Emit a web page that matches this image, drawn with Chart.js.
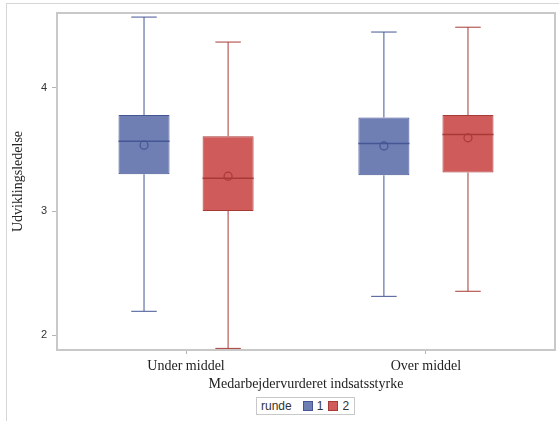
<!DOCTYPE html>
<html>
<head>
<meta charset="utf-8">
<script src="https://cdn.jsdelivr.net/npm/chart.js@4"></script>
<style>
    html, body { margin: 0; padding: 0; background: #fff; }
    #wrap { position: relative; width: 559px; height: 421px; overflow: hidden; }
    #frame {
        position: absolute; left: 6px; top: 3px; right: 0; bottom: 0;
        border-left: 1px solid #d6d6d6; border-top: 1px solid #d6d6d6;
        pointer-events: none;
    }
    #legend {
        position: absolute; left: 256px; top: 397px; height: 16px; width: 97px;
        border: 1px solid #c8c8c8; background: #fff;
        font: 12px "Liberation Sans", Arial, sans-serif; color: #333;
        display: flex; align-items: center; box-sizing: content-box;
    }
    #legend .lbl { margin-left: 4px; margin-right: 11px; }
    #legend .sw { width: 8px; height: 8px; border: 1px solid; margin-right: 4px; }
    #legend .txt { margin-right: 3px; }
</style>
</head>
<body>
<div id="wrap">
    <canvas id="chart" width="559" height="421"></canvas>
    <div id="frame"></div>
    <div id="legend"></div>
</div>
<script>
// categories and tick values
const categories = ['Under middel', 'Over middel'];
const yTicks = [2, 3, 4];
const runder = ['1', '2'];

// box statistics per runde, one value per category
const min1 = [2.192, 2.313];
const q1_1 = [3.301, 3.292];
const median1 = [3.568, 3.549];
const mean1 = [3.536, 3.530];
const q3_1 = [3.779, 3.760];
const max1 = [4.572, 4.451];

const min2 = [1.892, 2.354];
const q1_2 = [3.004, 3.315];
const median2 = [3.269, 3.623];
const mean2 = [3.285, 3.595];
const q3_2 = [3.609, 3.779];
const max2 = [4.370, 4.490];

const fills = ['#6F7EB3', '#D05B5B'];
const lines = ['#445694', '#A83A36'];

const stats = [
    { min: min1, q1: q1_1, med: median1, mean: mean1, q3: q3_1, max: max1 },
    { min: min2, q1: q1_2, med: median2, mean: mean2, q3: q3_2, max: max2 }
];

const datasets = stats.map((s, i) => ({
    label: runder[i],
    data: categories.map((c, j) => ({ x: j, y: [s.q1[j], s.q3[j]] })),
    backgroundColor: fills[i],
    borderColor: lines[i],
    borderWidth: 1,
    borderSkipped: false,
    categoryPercentage: 0.701,
    barPercentage: 0.607
}));

// whiskers, medians and means, placed on the bars the library laid out
const boxExtras = {
    id: 'boxExtras',
    afterDatasetsDraw(chart) {
        const ctx = chart.ctx;
        const y = chart.scales.y;
        stats.forEach((s, i) => {
            const meta = chart.getDatasetMeta(i);
            meta.data.forEach((bar, j) => {
                const x = bar.x;
                const w = bar.width;
                ctx.save();
                ctx.strokeStyle = lines[i];
                ctx.lineWidth = 1;
                ctx.beginPath();
                ctx.moveTo(x, y.getPixelForValue(s.q3[j]));
                ctx.lineTo(x, y.getPixelForValue(s.max[j]));
                ctx.moveTo(x, y.getPixelForValue(s.q1[j]));
                ctx.lineTo(x, y.getPixelForValue(s.min[j]));
                ctx.moveTo(x - w / 4, y.getPixelForValue(s.max[j]));
                ctx.lineTo(x + w / 4, y.getPixelForValue(s.max[j]));
                ctx.moveTo(x - w / 4, y.getPixelForValue(s.min[j]));
                ctx.lineTo(x + w / 4, y.getPixelForValue(s.min[j]));
                ctx.stroke();

                ctx.lineWidth = 1.5;
                ctx.beginPath();
                ctx.moveTo(x - w / 2, y.getPixelForValue(s.med[j]));
                ctx.lineTo(x + w / 2, y.getPixelForValue(s.med[j]));
                ctx.stroke();

                ctx.lineWidth = 1.2;
                ctx.beginPath();
                ctx.arc(x, y.getPixelForValue(s.mean[j]), 4, 0, Math.PI * 2);
                ctx.stroke();
                ctx.restore();
            });
        });
        const a = chart.chartArea;
        ctx.save();
        ctx.strokeStyle = '#c8c8c8';
        ctx.lineWidth = 2;
        ctx.strokeRect(a.left, a.top, a.right - a.left, a.bottom - a.top);
        ctx.restore();
    }
};

new Chart(document.getElementById('chart').getContext('2d'), {
    type: 'bar',
    data: { datasets: datasets },
    options: {
        responsive: false,
        animation: false,
        events: [],
        layout: { padding: { left: 0, top: 13, right: 4, bottom: 0 } },
        plugins: { legend: { display: false }, tooltip: { enabled: false } },
        scales: {
            x: {
                type: 'linear',
                min: -0.538,
                max: 1.538,
                offset: false,
                afterBuildTicks: (scale) => { scale.ticks = categories.map((c, i) => ({ value: i })); },
                afterFit: (scale) => { scale.height = 71; },
                grid: { offset: false, drawOnChartArea: false, tickLength: 4, color: '#b4b4b4' },
                border: { display: false },
                ticks: {
                    padding: 4,
                    maxRotation: 0,
                    color: '#222',
                    font: { family: '"Liberation Serif", serif', size: 14 },
                    callback: (v) => categories[v]
                },
                title: {
                    display: true,
                    text: 'Medarbejdervurderet indsatsstyrke',
                    color: '#222',
                    font: { family: '"Liberation Serif", serif', size: 14 },
                    padding: { top: 0, bottom: 28 }
                }
            },
            y: {
                min: 1.879,
                max: 4.605,
                afterBuildTicks: (scale) => { scale.ticks = yTicks.map(v => ({ value: v })); },
                afterFit: (scale) => { scale.width = 57; },
                grid: { drawOnChartArea: false, tickLength: 5, color: '#b4b4b4' },
                border: { display: false },
                ticks: {
                    padding: 5,
                    color: '#333',
                    font: { family: '"Liberation Sans Narrow", "Liberation Sans", sans-serif', size: 11 }
                },
                title: {
                    display: true,
                    text: 'Udviklingsledelse',
                    color: '#222',
                    font: { family: '"Liberation Serif", serif', size: 14 },
                    padding: { top: 10, bottom: 0 }
                }
            }
        }
    },
    plugins: [boxExtras]
});

// legend under the plot
const legend = document.getElementById('legend');
legend.innerHTML = '<span class="lbl">runde</span>' + runder.map((r, i) =>
    '<span class="sw" style="background:' + fills[i] + ';border-color:' + lines[i] + '"></span>' +
    '<span class="txt">' + r + '</span>' + (i < runder.length - 1 ? '<span style="width:2px"></span>' : '')
).join('');
</script>
</body>
</html>
